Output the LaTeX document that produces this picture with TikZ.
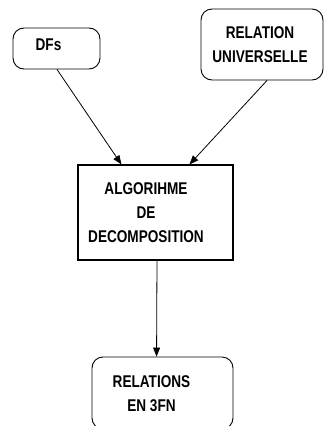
\documentclass[tikz,border=0pt]{standalone}
\usepackage{fontspec}
\setmainfont{Liberation Sans}[FakeStretch=0.8]
\usetikzlibrary{arrows.meta}
\begin{document}
\begin{tikzpicture}[x=1pt,y=-1pt,
  rbox/.style={draw,line width=0.9pt,rounded corners=11pt,inner sep=0pt},
  sbox/.style={draw,line width=1.1pt,inner sep=0pt},
  lbl/.style={align=center,font=\fontsize{17}{24}\selectfont\bfseries,inner sep=0pt},
  arr/.style={line width=0.8pt,-{Triangle[length=9pt,width=7pt]}}]
\useasboundingbox (0,0) rectangle (324,426);
% boxes
\node[rbox,minimum width=87pt,minimum height=41pt] (dfs) at (56.5,48.5) {};
\node[rbox,minimum width=122pt,minimum height=71pt] (rel) at (262,44.5) {};
\node[sbox,minimum width=155pt,minimum height=95pt] (alg) at (155.5,212.5) {};
\node[rbox,minimum width=141pt,minimum height=72pt] (res) at (162.5,393) {};
% labels
\node[lbl] (tdfs) at (48.5,44.5) {DFs};
\node[lbl] (trel) at (260,44.5) {RELATION\\UNIVERSELLE};
\node[lbl] (talg) at (146,212.5) {ALGORIHME\\DE\\DECOMPOSITION};
\node[lbl] (tres) at (151.5,394) {RELATIONS\\EN 3FN};
% connectors
\draw[arr] ([xshift=0.5pt]dfs.south) -- ([xshift=44pt]alg.north west);
\draw[arr] ([xshift=5pt]rel.south) -- ([xshift=112pt]alg.north west);
\draw[arr] ([xshift=1.5pt]alg.south) -- ([xshift=65pt]res.north west);
\end{tikzpicture}
\end{document}
